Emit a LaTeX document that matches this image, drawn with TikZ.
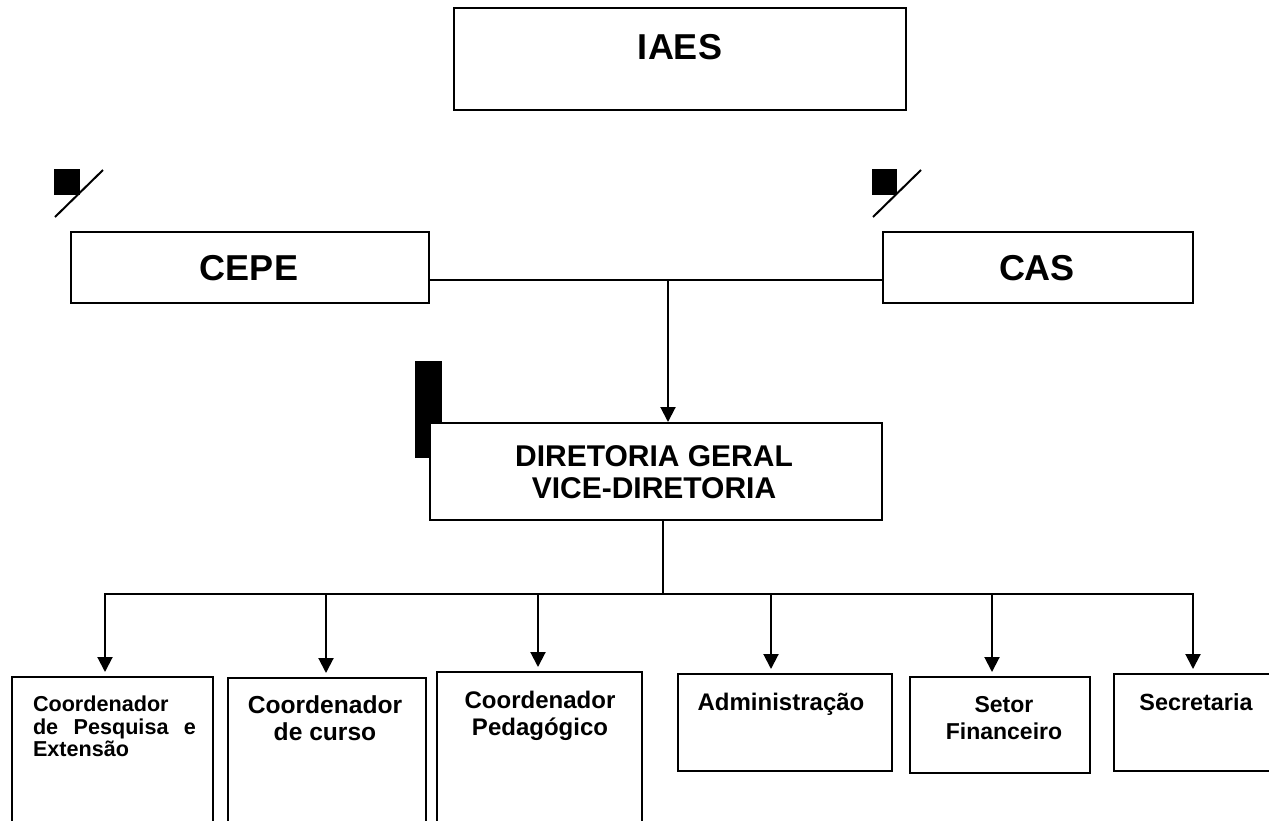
\documentclass[tikz,border=0pt]{standalone}
\usepackage{fontspec}
\setmainfont{Liberation Sans}
\usetikzlibrary{fit,arrows.meta}
\begin{document}
\begin{tikzpicture}[x=0.5pt,y=-0.5pt, line width=1pt,
  box/.style={draw, fill=white, inner sep=0pt, line width=1pt},
  lbl/.style={inner sep=0pt, anchor=north},
  arr/.style={-{Triangle[width=7.5pt,length=7.5pt]}, shorten >=2pt}]
\clip (0,0) rectangle (1269,820);
\fill[white] (0,0) rectangle (1269,820);
% marks
\fill (54,169) rectangle (80,195);
\draw (55,217) -- (103,170);
\fill (872,169) rectangle (897,195);
\draw (873,217) -- (921,170);
\fill (415,361) rectangle (442,458);
% top boxes
\node[box, fit={(454,8) (906,110)}] (iaes) {};
\node[lbl, font=\bfseries\fontsize{18}{20}\selectfont] (iaest) at (680,33) {IAES};
\node[box, fit={(71,232) (429,303)}] (cepe) {};
\node[lbl, font=\bfseries\fontsize{18}{20}\selectfont] (cepet) at (249,254) {CEPE};
\node[box, fit={(883,232) (1193,303)}] (cas) {};
\node[lbl, font=\bfseries\fontsize{18}{20}\selectfont] (cast) at (1037,254) {CAS};
\node[box, fit={(430,423) (882,520)}] (dir) {};
\node[lbl, align=center, font=\bfseries\fontsize{15}{16}\selectfont] (dirt) at (654,445) {DIRETORIA GERAL\\VICE-DIRETORIA};
% bottom boxes
\node[box, fit={(12,677) (213,830)}] (b1) {};
\node[box, fit={(228,678) (426,830)}] (b2) {};
\node[box, fit={(437,672) (642,830)}] (b3) {};
\node[box, fit={(678,674) (892,771)}] (b4) {};
\node[box, fit={(910,677) (1090,773)}] (b5) {};
\node[box, fit={(1114,674) (1280,771)}] (b6) {};
\node[lbl, anchor=north west, align=left, font=\bfseries\fontsize{10.8}{11.3}\selectfont] (b1t) at (32,695) {Coordenador\\\makebox[81.5pt][s]{de Pesquisa e}\\Extensão};
\node[lbl, align=center, font=\bfseries\fontsize{12.3}{13.5}\selectfont] (b2t) at (325,695) {Coordenador\\de curso};
\node[lbl, align=center, font=\bfseries\fontsize{12}{13.5}\selectfont] (b3t) at (540,690) {Coordenador\\Pedagógico};
\node[lbl, font=\bfseries\fontsize{12}{13.5}\selectfont] (b4t) at (781,692) {Administração};
\node[lbl, align=center, font=\bfseries\fontsize{11.5}{13.5}\selectfont] (b5t) at (1004,695) {Setor\\Financeiro};
\node[lbl, font=\bfseries\fontsize{11.7}{13.5}\selectfont] (b6t) at (1196,693) {Secretaria};
% connectors
\coordinate (j1) at (668,280);
\draw (cepe.east |- j1) -- (cas.west |- j1);
\draw[arr, shorten >=0pt] (j1) -- (j1 |- dir.north);
\coordinate (j2) at (663,594);
\draw (j2 |- dir.south) -- (j2);
\coordinate (h1) at (105,594);
\coordinate (h2) at (326,594);
\coordinate (h3) at (538,594);
\coordinate (h4) at (771,594);
\coordinate (h5) at (992,594);
\coordinate (h6) at (1193,594);
\draw[line cap=rect] (h1) -- (h6);
\draw[arr] (h1) -- (h1 |- b1.north);
\draw[arr] (h2) -- (h2 |- b2.north);
\draw[arr] (h3) -- (h3 |- b3.north);
\draw[arr] (h4) -- (h4 |- b4.north);
\draw[arr] (h5) -- (h5 |- b5.north);
\draw[arr] (h6) -- (h6 |- b6.north);
\end{tikzpicture}
\end{document}
